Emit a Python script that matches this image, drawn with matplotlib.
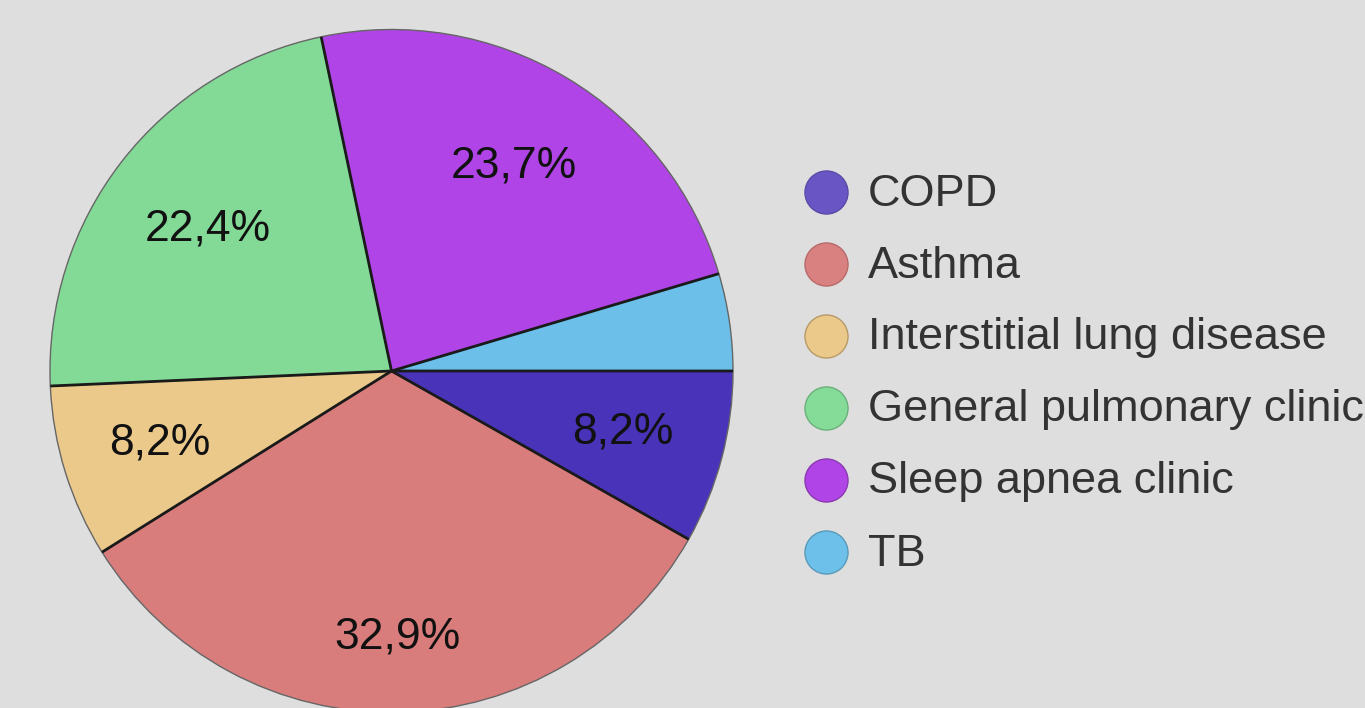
import numpy as np
import matplotlib.pyplot as plt

# ---- Data ----
labels = ["COPD", "Asthma", "Interstitial lung disease",
          "General pulmonary clinic", "Sleep apnea clinic", "TB"]
shares = [8.2, 32.9, 8.2, 22.4, 23.7, 4.6]
slice_colors  = ["#4934b9", "#d97c7c", "#ebc98a", "#82da96", "#b044e6", "#6bbfe9"]
marker_colors = ["#6a55c4", "#d98080", "#ebc98a", "#85dc98", "#b144e6", "#6cc0ea"]
marker_edges  = ["#5a4aa8", "#b86a6a", "#b89a68", "#6ab07a", "#8a3ab0", "#5a9ab8"]
label_dist    = [0.70, 0.78, 0.71, 0.68, 0.70, 0.7]   # label radius per slice

W, H = 1365, 708
fig = plt.figure(figsize=(W / 100, H / 100), dpi=100)
fig.patch.set_facecolor("#dedede")

# ---- Pie ----
cx, cy, r = 391.5, 371, 341.5
ax = fig.add_axes([(cx - r) / W, (H - cy - r) / H, 2 * r / W, 2 * r / H])
ax.set_facecolor("none")


def fmt(p):
    return f"{p:.1f}%".replace(".", ",") if p > 5 else ""


wedges, texts, autotexts = ax.pie(
    shares, colors=slice_colors, startangle=0, counterclock=False,
    autopct=fmt, pctdistance=0.72, radius=1.0,
    wedgeprops=dict(edgecolor="#666666", linewidth=1.0),
    textprops=dict(fontsize=32, family="Liberation Sans", color="#111111"),
)

# dark separators between slices, lighter outer rim
for w, t, d in zip(wedges, autotexts, label_dist):
    a = np.deg2rad(w.theta1)
    ax.plot([0, np.cos(a)], [0, np.sin(a)], color="#1a1a1a", lw=2.0,
            solid_capstyle="butt", zorder=3)
    m = np.deg2rad((w.theta1 + w.theta2) / 2)
    t.set_position((d * np.cos(m), d * np.sin(m)))
    t.set_zorder(4)

ax.set_xlim(-1, 1)
ax.set_ylim(-1, 1)
ax.set_aspect("equal")
ax.axis("off")

# ---- Legend ----
lax = fig.add_axes([0, 0, 1, 1])
lax.set_xlim(0, W)
lax.set_ylim(H, 0)
lax.axis("off")
for i, (lab, mc, me) in enumerate(zip(labels, marker_colors, marker_edges)):
    y = 192 + 72 * i
    lax.scatter([826], [y], s=31 ** 2, color=mc, edgecolor=me,
                linewidth=1.0, zorder=3)
    lax.text(868, y + 2, lab, fontsize=32.5, family="Liberation Sans",
             color="#333333", va="center", ha="left")

fig.savefig("out.png", dpi=100, facecolor=fig.get_facecolor())
